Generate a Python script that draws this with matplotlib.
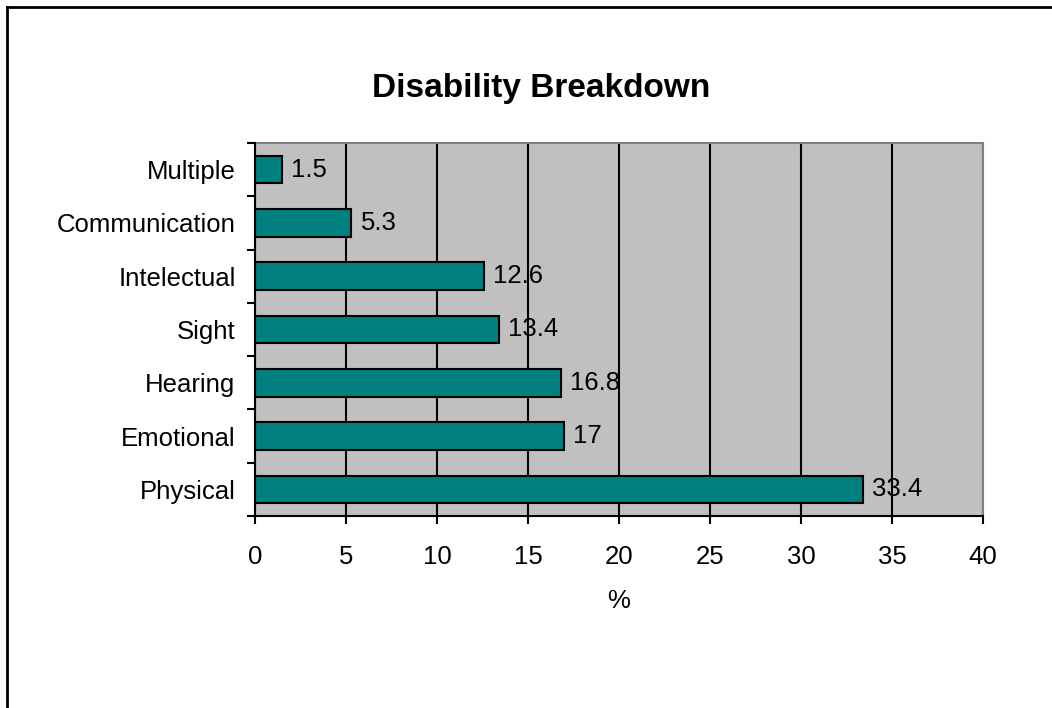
import matplotlib.pyplot as plt
from matplotlib.lines import Line2D
from matplotlib.ticker import FixedLocator

plt.rcParams['font.family'] = ['Liberation Sans', 'DejaVu Sans']

# Данные (снизу вверх)
categories = ['Physical', 'Emotional', 'Hearing', 'Sight', 'Intelectual', 'Communication', 'Multiple']
values = [33.4, 17, 16.8, 13.4, 12.6, 5.3, 1.5]
value_labels = ['33.4', '17', '16.8', '13.4', '12.6', '5.3', '1.5']
x_ticks = [0, 5, 10, 15, 20, 25, 30, 35, 40]

fs = 18.5

fig = plt.figure(figsize=(10.52, 7.08), dpi=100)
ax = fig.add_axes([255 / 1052, 192 / 708, 728 / 1052, 373 / 708])
ax.set_facecolor('#c0c0c0')

pos = range(len(categories))
bars = ax.barh(pos, values, height=0.52, color='#008080', edgecolor='black', linewidth=1.5, zorder=3)

for b, lab in zip(bars, value_labels):
    ax.annotate(lab, (b.get_width(), b.get_y() + b.get_height() / 2),
                xytext=(6.5, 0), textcoords='offset points',
                va='center', ha='left', fontsize=fs, zorder=4)

ax.set_xlim(0, 40)
ax.set_ylim(-0.5, len(categories) - 0.5)
ax.set_xticks(x_ticks)
ax.set_yticks(list(pos))
ax.set_yticklabels(categories)
ax.yaxis.set_minor_locator(FixedLocator([i - 0.5 for i in range(len(categories) + 1)]))
ax.tick_params(axis='y', which='major', length=0, pad=14, labelsize=fs)
ax.tick_params(axis='y', which='minor', length=6, width=1.5, direction='out')
ax.tick_params(axis='x', length=6, width=1.5, direction='out', pad=15, labelsize=fs)

ax.grid(axis='x', color='black', linewidth=1.5, zorder=1)
ax.set_axisbelow(True)

for s in ['left', 'bottom']:
    ax.spines[s].set_linewidth(1.5)
    ax.spines[s].set_zorder(5)
for s in ['top', 'right']:
    ax.spines[s].set_color('#808080')
    ax.spines[s].set_linewidth(1.5)

ax.set_xlabel('%', fontsize=fs, labelpad=14)

fig.text(541 / 1052, (708 - 89) / 708, 'Disability Breakdown', ha='center', va='center',
         fontsize=24, fontweight='bold')

# Рамка вокруг диаграммы (правый и нижний край за пределами)
fig.add_artist(Line2D([7 / 1052, 7 / 1052], [0, 1 - 7 / 708], color='black', linewidth=2, transform=fig.transFigure))
fig.add_artist(Line2D([7 / 1052, 1], [1 - 7 / 708, 1 - 7 / 708], color='black', linewidth=2, transform=fig.transFigure))

fig.savefig('out.png', dpi=100)
